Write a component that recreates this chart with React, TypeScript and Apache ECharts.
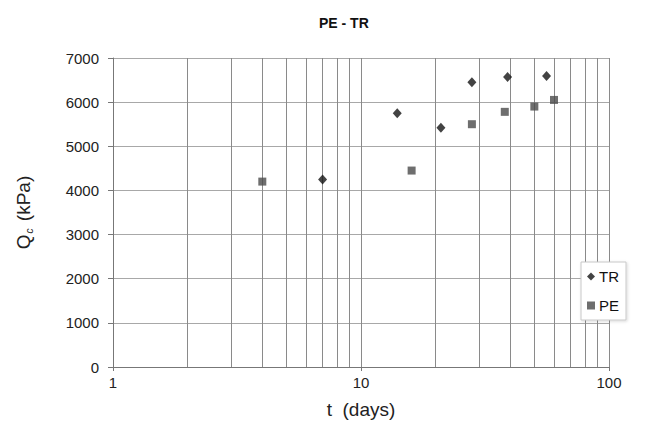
import React, { useEffect, useRef } from "react";
import * as echarts from "echarts";

const trData: [number, number][] = [
  [7, 4250],
  [14, 5750],
  [21, 5420],
  [28, 6450],
  [39, 6570],
  [56, 6590],
];
const peData: [number, number][] = [
  [4, 4200],
  [16, 4450],
  [28, 5500],
  [38, 5780],
  [50, 5900],
  [60, 6050],
];
const minorGridValues = [2, 3, 4, 5, 6, 7, 8, 9, 20, 30, 40, 50, 60, 70, 80, 90];
const FONT = "Liberation Sans, Arial, sans-serif";

export default function App() {
  const ref = useRef<HTMLDivElement>(null);
  useEffect(() => {
    document.body.style.margin = "0";
    const chart = echarts.init(ref.current!, null, { renderer: "svg" });
    chart.setOption({
      animation: false,
      backgroundColor: "#fff",
      title: {
        text: "PE - TR",
        left: 314,
        top: 11,
        textStyle: { fontFamily: FONT, fontSize: 14, fontWeight: "bold", color: "#111" },
      },
      grid: { left: 113, right: 60, top: 58, bottom: 62 },
      legend: {
        orient: "vertical",
        left: 581,
        top: 262,
        padding: [7, 7, 7, 6],
        itemGap: 14,
        itemWidth: 8,
        itemHeight: 8,
        backgroundColor: "#fff",
        borderColor: "#c8c8c8",
        borderWidth: 1,
        shadowColor: "rgba(0,0,0,0.15)",
        shadowBlur: 3,
        shadowOffsetX: 1,
        shadowOffsetY: 1,
        textStyle: { fontFamily: FONT, fontSize: 15, color: "#111", padding: [0, 0, 0, -1] },
        data: ["TR", "PE"],
      },
      xAxis: {
        type: "log",
        logBase: 10,
        min: 1,
        max: 100,
        name: "t  (days)",
        nameLocation: "middle",
        nameGap: 33,
        nameTextStyle: { fontFamily: FONT, fontSize: 19, color: "#222" },
        axisLine: { lineStyle: { color: "#777", width: 1 } },
        axisTick: { show: true, length: 4, lineStyle: { color: "#777" } },
        axisLabel: { fontFamily: FONT, fontSize: 15, color: "#222", margin: 8 },
        splitLine: { show: true, lineStyle: { color: "#8a8a8a", width: 1 } },
      },
      yAxis: {
        type: "value",
        min: 0,
        max: 7000,
        interval: 1000,
        name: "{q|Q}{s|c}{n| (kPa)}",
        nameLocation: "middle",
        nameGap: 79,
        nameTextStyle: {
          fontFamily: FONT,
          fontSize: 19,
          color: "#222",
          rich: {
            q: { fontFamily: FONT, fontSize: 19, color: "#222" },
            s: { fontFamily: FONT, fontSize: 10, fontStyle: "italic", color: "#222", padding: [11, 2, 0, 1] },
            n: { fontFamily: FONT, fontSize: 19, color: "#222" },
          },
        },
        axisLine: { show: true, lineStyle: { color: "#777", width: 1 } },
        axisTick: { show: true, length: 5, lineStyle: { color: "#777" } },
        axisLabel: {
          fontFamily: FONT,
          fontSize: 15,
          color: "#222",
          margin: 14,
          formatter: (v: number) => String(v),
        },
        splitLine: { show: true, lineStyle: { color: "#a8a8a8", width: 1 } },
      },
      series: [
        {
          name: "TR",
          type: "scatter",
          symbol: "diamond",
          symbolSize: [9, 10],
          itemStyle: { color: "#141414" },
          data: trData,
          z: 5,
          markLine: {
            silent: true,
            symbol: "none",
            label: { show: false },
            lineStyle: { color: "#8a8a8a", width: 1, type: "solid" },
            data: minorGridValues.map((v) => ({ xAxis: v })),
            z: 1,
          },
        },
        {
          name: "PE",
          type: "scatter",
          symbol: "rect",
          symbolSize: 8,
          itemStyle: { color: "#4a4a4a" },
          data: peData,
          z: 5,
        },
      ],
    });
    return () => chart.dispose();
  }, []);
  return <div ref={ref} style={{ width: 669, height: 429 }} />;
}
